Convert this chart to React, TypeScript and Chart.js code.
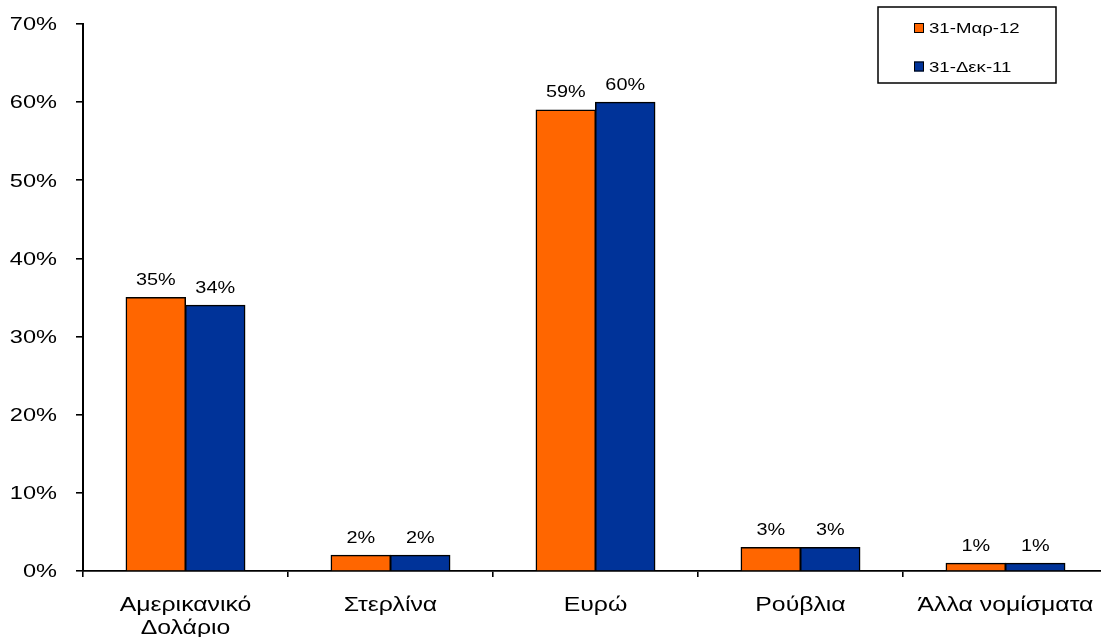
import React, { useEffect, useRef } from "react";
import { Chart, registerables } from "chart.js";

Chart.register(...registerables);

const categories: string[][] = [
  ["Αμερικανικό", "Δολάριο"],
  ["Στερλίνα"],
  ["Ευρώ"],
  ["Ρούβλια"],
  ["Άλλα νομίσματα"],
];
const seriesNames = ["31-Μαρ-12", "31-Δεκ-11"];
const march12 = [35, 2, 59, 3, 1];
const dec11 = [34, 2, 60, 3, 1];
const seriesColors = ["#FF6600", "#003399"];
const yTicks = [0, 10, 20, 30, 40, 50, 60, 70];

const FONT = "'Liberation Sans', Arial, sans-serif";
// Wide Helvetica-style lettering: Arial-metric glyphs stretched horizontally
const STRETCH = 1.24;

function wideText(
  ctx: CanvasRenderingContext2D,
  text: string,
  x: number,
  y: number,
  size: number,
  align: CanvasTextAlign,
  baseline: CanvasTextBaseline = "alphabetic"
) {
  ctx.save();
  ctx.translate(x, y);
  ctx.scale(STRETCH, 1);
  ctx.font = `${size}px ${FONT}`;
  ctx.textAlign = align;
  ctx.textBaseline = baseline;
  ctx.fillStyle = "#000";
  ctx.fillText(text, 0, 0);
  ctx.restore();
}

const axisText = {
  id: "axisText",
  afterDraw(chart: any) {
    const ctx = chart.ctx;
    const y = chart.scales.y;
    const x = chart.scales.x;
    y.ticks.forEach((t: any, i: number) => {
      const py = y.getPixelForTick(i);
      wideText(ctx, `${t.value}%`, 57, py + 1, 19, "right", "middle");
    });
    categories.forEach((lines, i) => {
      const px = x.getPixelForValue(i);
      lines.forEach((line, k) => {
        wideText(ctx, line, px, 611 + k * 23, 20, "center");
      });
    });
  },
};

const valueLabels = {
  id: "valueLabels",
  afterDatasetsDraw(chart: any) {
    const ctx = chart.ctx;
    chart.data.datasets.forEach((ds: any, di: number) => {
      const meta = chart.getDatasetMeta(di);
      meta.data.forEach((bar: any, i: number) => {
        wideText(ctx, `${ds.data[i]}%`, bar.x, bar.y - 12.5, 16, "center");
      });
    });
  },
};

const boxLegend = {
  id: "boxLegend",
  afterDraw(chart: any) {
    const ctx = chart.ctx;
    ctx.save();
    ctx.strokeStyle = "#000";
    ctx.lineWidth = 1.5;
    ctx.fillStyle = "#fff";
    ctx.fillRect(878, 7, 178, 76);
    ctx.strokeRect(878, 7, 178, 76);
    seriesNames.forEach((name, i) => {
      const cy = 28 + i * 38.5;
      ctx.fillStyle = seriesColors[i];
      ctx.fillRect(914, cy - 5, 10, 10);
      ctx.lineWidth = 1;
      ctx.strokeStyle = "#000";
      ctx.strokeRect(914.5, cy - 4.5, 9, 9);
      wideText(ctx, name, 929, cy + 5, 15, "left");
    });
    ctx.restore();
  },
};

export default function App() {
  const canvasRef = useRef<HTMLCanvasElement | null>(null);

  useEffect(() => {
    if (!canvasRef.current) return;
    const barStyle = {
      borderColor: "#000",
      borderWidth: 1.5,
      inflateAmount: 0.5,
      categoryPercentage: 0.58,
      barPercentage: 1,
    };
    const chart = new Chart(canvasRef.current, {
      type: "bar",
      data: {
        labels: categories.map((c) => c.join(" ")),
        datasets: [
          {
            label: seriesNames[0],
            data: march12,
            backgroundColor: seriesColors[0],
            ...barStyle,
          },
          {
            label: seriesNames[1],
            data: dec11,
            backgroundColor: seriesColors[1],
            ...barStyle,
          },
        ],
      },
      options: {
        responsive: false,
        animation: false,
        devicePixelRatio: 1,
        layout: { padding: { top: 24, right: 0, left: 0, bottom: 0 } },
        plugins: {
          legend: { display: false },
          tooltip: { enabled: false },
        },
        scales: {
          x: {
            grid: {
              offset: true,
              drawOnChartArea: false,
              drawTicks: true,
              tickLength: 6,
              color: "#000",
              lineWidth: 1.6,
            },
            border: { display: true, color: "#000", width: 1.8 },
            ticks: { display: false },
            afterFit(scale: any) {
              scale.height = 66;
            },
          },
          y: {
            min: 0,
            max: 70,
            afterBuildTicks(scale: any) {
              scale.ticks = yTicks.map((v) => ({ value: v }));
            },
            grid: {
              drawOnChartArea: false,
              drawTicks: true,
              tickLength: 7,
              color: "#000",
              lineWidth: 1.6,
            },
            border: { display: true, color: "#000", width: 2 },
            ticks: { display: false },
            afterFit(scale: any) {
              scale.width = 83;
            },
          },
        },
      },
      plugins: [valueLabels, axisText, boxLegend],
    });
    return () => chart.destroy();
  }, []);

  return (
    <div
      style={{
        position: "fixed",
        left: 0,
        top: 0,
        width: 1108,
        height: 637,
        background: "#fff",
      }}
    >
      <canvas ref={canvasRef} width={1108} height={637} />
    </div>
  );
}
